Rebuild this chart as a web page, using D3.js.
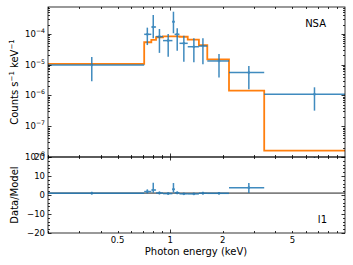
<!DOCTYPE html>
<html>
<head>
<meta charset="utf-8">
<script src="https://cdn.jsdelivr.net/npm/d3@7"></script>
<style>
  body { margin: 0; background: #fff; }
  svg { display: block; font-family: "DejaVu Sans", sans-serif; }
</style>
</head>
<body>
<svg id="chart" width="353" height="265"></svg>
<script>
// energy bins (keV) and the data
const binEdges = [0.2, 0.71, 0.78, 0.83, 0.91, 1.03, 1.06, 1.13, 1.26, 1.46, 1.63, 2.17, 3.45, 10];
const energy = [0.356, 0.74, 0.80, 0.868, 0.974, 1.044, 1.097, 1.197, 1.366, 1.539, 1.902, 2.818, 6.69];
const counts = [9.7e-6, 9.6e-5, 1.66e-4, 8.1e-5, 6.0e-5, 2.47e-4, 9.6e-5, 4.9e-5, 3.8e-5, 4.0e-5, 1.31e-5, 5.5e-6, 1.09e-6];
const countsLo = [2.9e-6, 4.3e-5, 7.1e-5, 2.4e-5, 1.8e-5, 1.04e-4, 2.8e-5, 1.24e-5, 1.19e-5, 1.02e-5, 3.8e-6, 1.58e-6, 3.2e-7];
const countsHi = [1.77e-5, 1.58e-4, 4.1e-4, 1.43e-4, 9.9e-5, 5.2e-4, 1.51e-4, 8.7e-5, 7.1e-5, 7.1e-5, 2.2e-5, 9.0e-6, 1.83e-6];
const model = [1.05e-5, 5.3e-5, 6.3e-5, 7.7e-5, 8.2e-5, 8.2e-5, 8.2e-5, 8.0e-5, 6.5e-5, 4.3e-5, 1.47e-5, 1.42e-6, 1.6e-8];
const ratio = [0.93, 1.81, 2.63, 1.05, 0.73, 3.01, 1.17, 0.61, 0.58, 0.93, 0.89, 3.87, 68];
const ratioLo = [0.28, 0.81, 1.13, 0.31, 0.22, 1.27, 0.34, 0.16, 0.18, 0.24, 0.26, 1.11, 19.5];
const ratioHi = [1.69, 2.98, 6.5, 1.86, 1.21, 6.3, 1.84, 1.09, 1.09, 1.65, 1.50, 6.3, 114];

const xTickLabels = [0.5, 1, 2, 5];
const yTopTicks = [1e-8, 1e-7, 1e-6, 1e-5, 1e-4];
const yBotTicks = [-20, -10, 0, 10, 20];

const blue = "#1f77b4", orange = "#ff7f0e";
const svg = d3.select("#chart");

const L = 48, R = 345, T1 = 7, B1 = 157, T2 = 157, B2 = 233;

const x = d3.scaleLog().domain([0.2, 10]).range([L, R]);
const y1 = d3.scaleLog().domain([1e-8, 7.4e-4]).range([B1, T1]);
const y2 = d3.scaleLinear().domain([-20, 20]).range([B2, T2]);

const defs = svg.append("defs");
defs.append("clipPath").attr("id", "c1").append("rect")
  .attr("x", L).attr("y", T1).attr("width", R - L).attr("height", B1 - T1);
defs.append("clipPath").attr("id", "c2").append("rect")
  .attr("x", L).attr("y", T2).attr("width", R - L).attr("height", B2 - T2);

// minor tick values for log x
let xMinor = [];
[0.1, 1].forEach(d => { for (let k = 2; k <= 9; k++) xMinor.push(d * k); });
xMinor = xMinor.filter(v => v >= 0.2 && v <= 10);

function xTicks(yTop, yBot) {
  const g = svg.append("g").attr("stroke", "#000").attr("stroke-width", 0.8);
  xMinor.concat([1]).forEach(v => {
    const len = v === 1 ? 3.5 : 2;
    const px = Math.round(x(v)) + 0.5;
    g.append("line").attr("x1", px).attr("x2", px).attr("y1", yBot).attr("y2", yBot - len);
    g.append("line").attr("x1", px).attr("x2", px).attr("y1", yTop).attr("y2", yTop + len);
  });
}

// ---- top panel
const p1 = svg.append("g").attr("clip-path", "url(#c1)");
const stepData = model.map((m, i) => [binEdges[i], m]).concat([[binEdges[binEdges.length - 1], model[model.length - 1]]]);
p1.append("path")
  .datum(stepData)
  .attr("fill", "none").attr("stroke", orange).attr("stroke-width", 1.8)
  .attr("d", d3.line().x(d => x(d[0])).y(d => y1(d[1])).curve(d3.curveStepAfter));

const pts = p1.selectAll("g.pt").data(energy).enter().append("g").attr("opacity", 0.85);
pts.append("line")
  .attr("x1", (d, i) => x(binEdges[i])).attr("x2", (d, i) => x(binEdges[i + 1]))
  .attr("y1", (d, i) => y1(counts[i])).attr("y2", (d, i) => y1(counts[i]))
  .attr("stroke", blue).attr("stroke-width", 1.5);
pts.append("line")
  .attr("x1", d => x(d)).attr("x2", d => x(d))
  .attr("y1", (d, i) => y1(countsLo[i])).attr("y2", (d, i) => y1(countsHi[i]))
  .attr("stroke", blue).attr("stroke-width", 1.5);
pts.append("circle")
  .attr("cx", d => x(d)).attr("cy", (d, i) => y1(counts[i])).attr("r", 1.3).attr("fill", blue);

// y ticks top (log)
const gy1 = svg.append("g").attr("stroke", "#000").attr("stroke-width", 0.8);
for (let e = -8; e <= -4; e++) {
  for (let k = 1; k <= 9; k++) {
    const v = k * Math.pow(10, e);
    if (v > 7.4e-4) continue;
    const len = k === 1 ? 3.5 : 2;
    const py = Math.round(y1(v)) + 0.5;
    gy1.append("line").attr("x1", L).attr("x2", L + len).attr("y1", py).attr("y2", py);
    gy1.append("line").attr("x1", R).attr("x2", R - len).attr("y1", py).attr("y2", py);
  }
}
xTicks(T1, B1);

yTopTicks.forEach(v => {
  const t = svg.append("text").attr("x", 45).attr("y", y1(v) + 3)
    .attr("text-anchor", "end").attr("font-size", 8.5).attr("fill", "#000");
  t.append("tspan").text("10");
  t.append("tspan").attr("dy", -4).attr("font-size", 6.2).text("\u2212" + (-Math.round(Math.log10(v))));
});

svg.append("text").attr("x", 326).attr("y", 27).attr("text-anchor", "end")
  .attr("font-size", 10).text("NSA");

// ---- bottom panel
const p2 = svg.append("g").attr("clip-path", "url(#c2)");
p2.append("line").attr("x1", L).attr("x2", R).attr("y1", y2(1)).attr("y2", y2(1))
  .attr("stroke", "#808080").attr("stroke-width", 1.8);
const rp = p2.selectAll("g.rp").data(energy).enter().append("g").attr("opacity", 0.85);
rp.append("line")
  .attr("x1", (d, i) => x(binEdges[i])).attr("x2", (d, i) => x(binEdges[i + 1]))
  .attr("y1", (d, i) => y2(ratio[i])).attr("y2", (d, i) => y2(ratio[i]))
  .attr("stroke", blue).attr("stroke-width", 1.5);
rp.append("line")
  .attr("x1", d => x(d)).attr("x2", d => x(d))
  .attr("y1", (d, i) => y2(ratioLo[i])).attr("y2", (d, i) => y2(ratioHi[i]))
  .attr("stroke", blue).attr("stroke-width", 1.5);
rp.append("circle")
  .attr("cx", d => x(d)).attr("cy", (d, i) => y2(ratio[i])).attr("r", 1.3).attr("fill", blue);

const gy2 = svg.append("g").attr("stroke", "#000").attr("stroke-width", 0.8);
d3.range(-20, 21, 2).forEach(v => {
  const len = v % 10 === 0 ? 3.5 : 2;
  const py = Math.round(y2(v)) + 0.5;
  gy2.append("line").attr("x1", L).attr("x2", L + len).attr("y1", py).attr("y2", py);
  gy2.append("line").attr("x1", R).attr("x2", R - len).attr("y1", py).attr("y2", py);
});
xTicks(T2, B2);

yBotTicks.forEach(v => {
  svg.append("text").attr("x", 45).attr("y", y2(v) + 3)
    .attr("text-anchor", "end").attr("font-size", 8.5)
    .text(v < 0 ? "\u2212" + (-v) : v);
});
xTickLabels.forEach(v => {
  svg.append("text").attr("x", x(v)).attr("y", 243)
    .attr("text-anchor", "middle").attr("font-size", 8.5).text(v);
});

svg.append("text").attr("x", 327).attr("y", 222.5).attr("text-anchor", "end")
  .attr("font-size", 10).text("l1");

// frames
[[T1, B1], [T2, B2]].forEach(([t, b]) => {
  svg.append("rect").attr("x", L).attr("y", t).attr("width", R - L).attr("height", b - t)
    .attr("fill", "none").attr("stroke", "#000").attr("stroke-width", 0.8);
});

// axis titles
svg.append("text").attr("x", 196).attr("y", 255).attr("text-anchor", "middle")
  .attr("font-size", 10).text("Photon energy (keV)");
const yt = svg.append("text").attr("transform", "translate(18," + ((T1 + B1) / 2) + ") rotate(-90)")
  .attr("text-anchor", "middle").attr("font-size", 10);
yt.append("tspan").text("Counts s");
yt.append("tspan").attr("dy", -4).attr("font-size", 7).text("\u22121");
yt.append("tspan").attr("dy", 4).text(" keV");
yt.append("tspan").attr("dy", -4).attr("font-size", 7).text("\u22121");
svg.append("text").attr("transform", "translate(18," + ((T2 + B2) / 2) + ") rotate(-90)")
  .attr("text-anchor", "middle").attr("font-size", 10).text("Data/Model");
</script>
</body>
</html>
